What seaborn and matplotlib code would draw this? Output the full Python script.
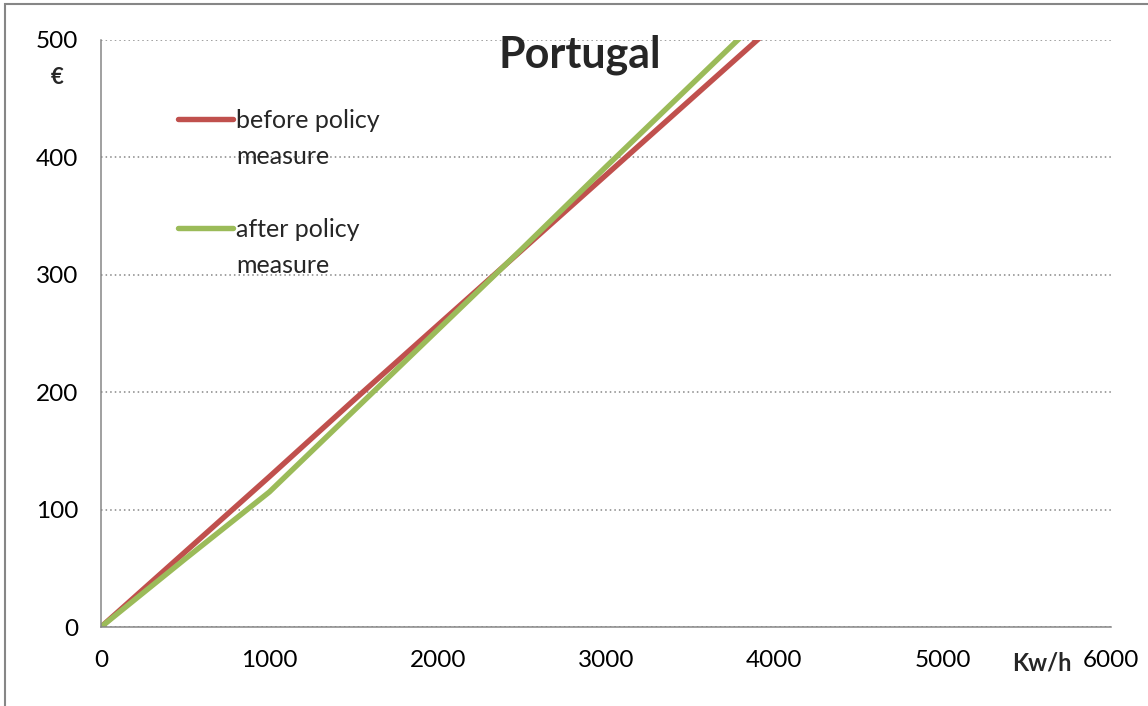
import matplotlib
matplotlib.use("Agg")
import matplotlib.pyplot as plt
from matplotlib.lines import Line2D
from matplotlib.patches import Rectangle
import seaborn as sns
import pandas as pd

# ---- data ----
kwh = [0, 500, 1000, 1500, 2000, 2500, 3000, 3500, 4000]
before_policy = [0, 64, 128, 193, 257, 321, 385, 449, 513]
after_policy = [0, 58, 115, 184, 253, 322, 392, 461, 530]
series_names = ["before policy\nmeasure", "after policy\nmeasure"]
x_ticks = [0, 1000, 2000, 3000, 4000, 5000, 6000]
y_ticks = [0, 100, 200, 300, 400, 500]
title = "Portugal"
x_label = "Kw/h"
y_label = "€"

RED = "#C0504D"
GREEN = "#9BBB59"
GRAY = "#868686"

df = pd.DataFrame({
    "kwh": kwh * 2,
    "eur": before_policy + after_policy,
    "series": [series_names[0]] * len(kwh) + [series_names[1]] * len(kwh),
})

sns.set_theme(style="white")
plt.rcParams["font.family"] = ["Lato", "DejaVu Sans"]

fig = plt.figure(figsize=(11.48, 7.06), dpi=100)
ax = fig.add_axes([101 / 1148, 1 - 627 / 706, 1010 / 1148, 587 / 706])

sns.lineplot(data=df, x="kwh", y="eur", hue="series",
             palette=[RED, GREEN], linewidth=3.9, ax=ax, legend=False,
             solid_capstyle="butt")

ax.set_xlim(0, 6000)
ax.set_ylim(0, 500)
ax.set_xticks(x_ticks)
ax.set_yticks(y_ticks)
ax.tick_params(axis="both", labelsize=17.5, colors=GRAY, labelcolor="black",
               length=5.5, width=1.1, direction="out")
ax.tick_params(axis="y", pad=11)
ax.tick_params(axis="x", pad=11)
ax.yaxis.grid(True, linestyle=(0, (1, 2)), color=GRAY, linewidth=1.1)
ax.xaxis.grid(False)
for s in ["top", "right"]:
    ax.spines[s].set_visible(False)
for s in ["left", "bottom"]:
    ax.spines[s].set_color(GRAY)
    ax.spines[s].set_linewidth(1.1)

ax.set_xlabel(x_label, fontsize=17, fontweight="bold", va="center")
ax.xaxis.set_label_coords((1042 - 101) / 1010, -(663 - 627) / 587)
ax.set_ylabel(y_label, fontsize=16, fontweight="bold", rotation=0, va="center", ha="center")
ax.yaxis.set_label_coords((57 - 101) / 1010, 1 - (77 - 40) / 587)

ax.text((580 - 101) / 1010, 1 - (55 - 40) / 587, title, transform=ax.transAxes,
        ha="center", va="center", fontsize=31, fontweight="bold")

# legend (handle aligned with first line of each label)
blank = Line2D([], [], color="none")
handles = [Line2D([], [], color=RED, linewidth=3.9, solid_capstyle="round"), blank, blank,
           Line2D([], [], color=GREEN, linewidth=3.9, solid_capstyle="round"), blank]
labels = ["before policy", "measure", " ", "after policy", "measure"]
leg = ax.legend(handles, labels, loc="upper left",
                bbox_to_anchor=((178 - 101) / 1010, 1 - (109 - 40) / 587),
                frameon=False, fontsize=18, handlelength=2.2, handletextpad=0.12,
                labelspacing=0.53, borderpad=0, borderaxespad=0)

# outer chart border (left and top visible)
fig.patches.append(Rectangle((4.5 / 1148, -0.05), 1.2, 1 - 4 / 706 + 0.05,
                             transform=fig.transFigure, fill=False,
                             edgecolor=GRAY, linewidth=1.5))

fig.savefig("out.png", dpi=100)
